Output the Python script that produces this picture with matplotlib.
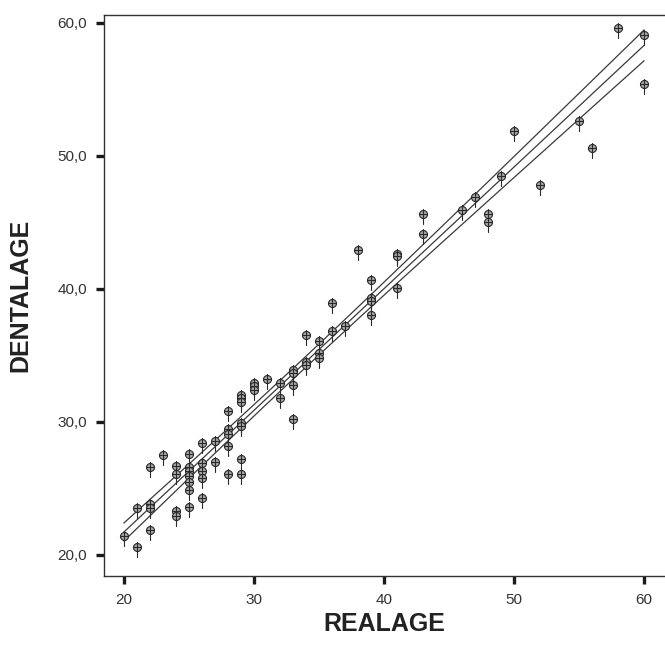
import numpy as np
import matplotlib
matplotlib.use("Agg")
import matplotlib.pyplot as plt
from matplotlib.path import Path

plt.rcParams['font.family'] = ['Liberation Sans', 'DejaVu Sans']

real_age = [20, 21, 21, 22, 22, 22, 22, 23, 24, 24, 24, 24,
            25, 25, 25, 25, 25, 25, 25, 26, 26, 26, 26, 26, 27, 27,
            28, 28, 28, 28, 28, 29, 29, 29, 29, 29, 29, 29,
            30, 30, 30, 31, 32, 32, 33, 33, 33, 33, 34, 34, 34,
            35, 35, 35, 36, 36, 37, 38, 39, 39, 39, 39, 41, 41, 41,
            43, 43, 46, 47, 48, 48, 49, 50, 52, 55, 56, 58, 60, 60]
dental_age = [21.4, 20.6, 23.5, 26.6, 23.8, 23.5, 21.9, 27.5, 26.7, 26.1, 23.3, 22.9,
              27.6, 26.6, 26.3, 25.9, 25.5, 24.9, 23.6, 28.4, 26.9, 26.3, 25.8, 24.3, 28.6, 27.0,
              30.8, 29.5, 29.1, 28.2, 26.1, 32.0, 31.8, 31.5, 29.9, 29.7, 27.2, 26.1,
              32.9, 32.7, 32.4, 33.2, 32.9, 31.8, 33.9, 33.7, 32.8, 30.2, 36.5, 34.5, 34.3,
              36.1, 35.2, 34.8, 38.9, 36.8, 37.2, 42.9, 40.7, 39.3, 39.1, 38.0, 42.6, 42.5, 40.1,
              45.6, 44.1, 45.9, 46.9, 45.6, 45.0, 48.5, 51.9, 47.8, 52.6, 50.6, 59.6, 59.1, 55.4]

x_ticks = [20, 30, 40, 50, 60]
y_ticks = [20, 30, 40, 50, 60]
y_tick_labels = ['20,0', '30,0', '40,0', '50,0', '60,0']


def spss_marker():
    # circle with a cross, the vertical stroke running down past the circle
    circle = Path.unit_circle()
    cross = Path([(-1.0, 0.0), (1.0, 0.0), (0.0, 1.35), (0.0, -2.6)],
                 [Path.MOVETO, Path.LINETO, Path.MOVETO, Path.LINETO])
    return Path.make_compound_path(circle, cross)


x = np.array(real_age, dtype=float)
y = np.array(dental_age, dtype=float)

# least squares fit with 95% band for the mean
slope, intercept = np.polyfit(x, y, 1)
n = len(x)
resid = y - (intercept + slope * x)
s = np.sqrt(np.sum(resid ** 2) / (n - 2))
xs = np.linspace(x.min(), x.max(), 200)
fit = intercept + slope * xs
se = s * np.sqrt(1.0 / n + (xs - x.mean()) ** 2 / np.sum((x - x.mean()) ** 2))
t95 = 1.991

fig = plt.figure(figsize=(6.65, 6.59), dpi=100)
ax = fig.add_axes([104 / 665, 1 - 576 / 659, 1 - 104 / 665, (576 - 15) / 659])

line_kw = dict(color='#3a3a3a', linewidth=0.9)
ax.plot(xs, fit, **line_kw)
ax.plot(xs, fit + t95 * se, **line_kw)
ax.plot(xs, fit - t95 * se, **line_kw)

ax.plot(x, y, linestyle='none', marker=spss_marker(), markersize=15,
        markerfacecolor='#a8a8a8', markeredgecolor='#2a2a2a', markeredgewidth=0.8)

ax.set_xlim(18.46, 61.62)
ax.set_ylim(18.42, 60.58)
ax.set_xticks(x_ticks)
ax.set_xticklabels([str(v) for v in x_ticks])
ax.set_yticks(y_ticks)
ax.set_yticklabels(y_tick_labels)

ax.tick_params(axis='both', direction='out', length=6, width=2.4, color='#1a1a1a',
               labelsize=11, labelcolor='#333333', pad=6)

ax.spines['right'].set_visible(False)
for side in ['left', 'top', 'bottom']:
    ax.spines[side].set_color('#333333')
    ax.spines[side].set_linewidth(1.0)

ax.set_xlabel('REALAGE', fontsize=18, fontweight='bold', color='#222222', labelpad=4)
ax.set_ylabel('DENTALAGE', fontsize=18, fontweight='bold', color='#222222', labelpad=18)

fig.savefig('out.png', dpi=100)
